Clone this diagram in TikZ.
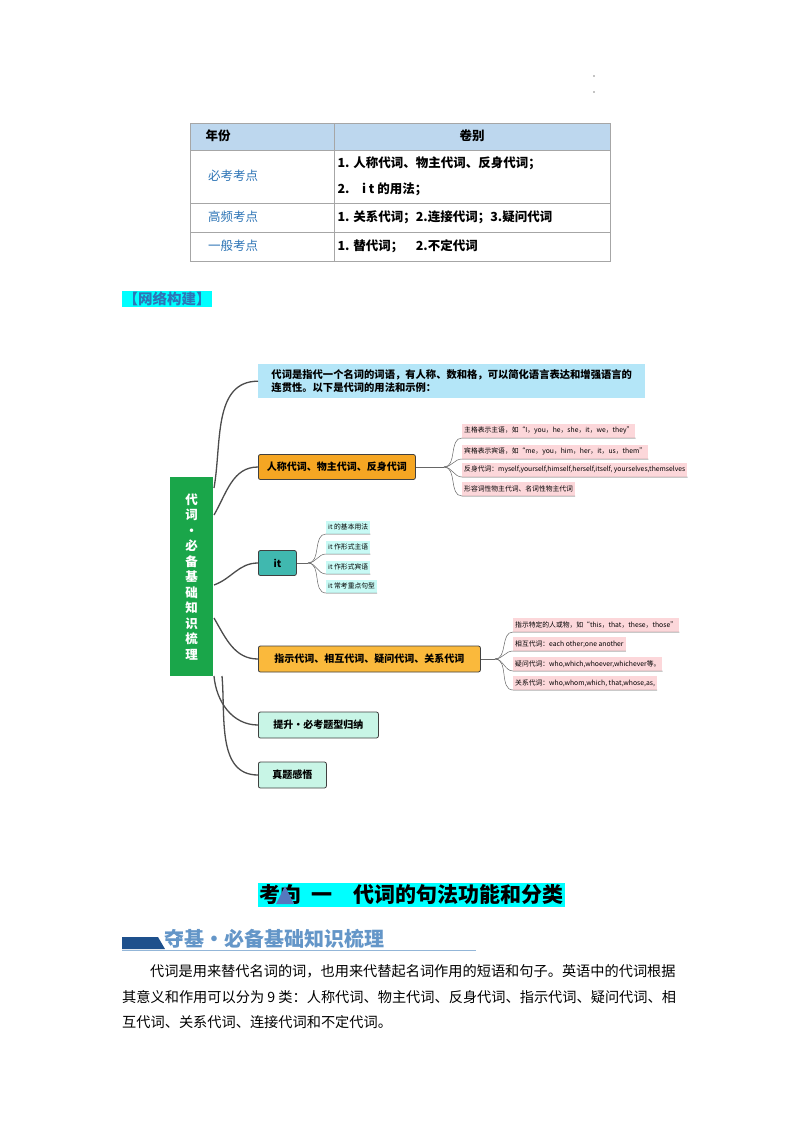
\documentclass[tikz,border=0pt]{standalone}
\usepackage{fontspec}
\setmainfont{Noto Sans CJK SC}
\definecolor{cyanbg}{RGB}{0,255,255}
\definecolor{hdrbg}{RGB}{189,215,238}
\definecolor{tblue}{RGB}{46,117,182}
\definecolor{defbg}{RGB}{180,230,248}
\definecolor{org}{RGB}{245,166,35}
\definecolor{org2}{RGB}{250,185,60}
\definecolor{tealc}{RGB}{64,184,175}
\definecolor{lgreen}{RGB}{200,245,230}
\definecolor{pinkbg}{RGB}{252,215,218}
\definecolor{lcyan}{RGB}{200,250,245}
\definecolor{cgreen}{RGB}{26,166,74}
\definecolor{bannerdark}{RGB}{30,80,140}
\definecolor{bannertxt}{RGB}{100,150,200}
\definecolor{tri}{RGB}{85,120,190}
\begin{document}
\begin{tikzpicture}[x=1pt,y=-1pt,
  cell/.style={draw=gray!70, line width=0.6pt},
  tf/.style={font=\fontsize{12.5}{14}\selectfont\bfseries},
  mainbox/.style={draw=black!75, rounded corners=2pt, line width=0.8pt, anchor=west, inner sep=4pt, font=\fontsize{10}{11}\selectfont\bfseries},
  leafp/.style={fill=pinkbg, anchor=south west, inner sep=2pt, font=\fontsize{6.8}{7}\selectfont, minimum height=14pt},
  leafc/.style={fill=lcyan, anchor=south west, inner sep=2pt, font=\fontsize{6.8}{7}\selectfont, minimum height=13pt},
  br/.style={draw=black!70, line width=1.3pt},
  lf/.style={draw=black!60, line width=0.5pt}]
\useasboundingbox (0,0) rectangle (800,1132);
\fill[white] (0,0) rectangle (800,1132);
\fill (594,76) circle (0.6); \fill (594,92) circle (0.6);
% table
\fill[hdrbg] (190,123) rectangle (610,150);
\draw[cell] (190,123) rectangle (610,261);
\foreach \y in {150,203,232} \draw[cell] (190,\y) -- (610,\y);
\draw[cell] (334,123) -- (334,261);
\node[tf] (h1) at (218,136) {年份};
\node[tf] (h2) at (472,136) {卷别};
\node[tf, font=\fontsize{12.5}{14}\selectfont, text=tblue] (r1) at (233,176) {必考考点};
\node[tf, font=\fontsize{12.5}{14}\selectfont, text=tblue] (r2) at (233,217) {高频考点};
\node[tf, font=\fontsize{12.5}{14}\selectfont, text=tblue] (r3) at (233,246) {一般考点};
\node[tf, anchor=west] (c1) at (334,163) {1. 人称代词、物主代词、反身代词；};
\node[tf, anchor=west] (c2) at (334,189) {2.\quad i t 的用法；};
\node[tf, anchor=west] (c3) at (334,217) {1. 关系代词；2.连接代词；3.疑问代词};
\node[tf, anchor=west] (c4) at (334,246) {1. 替代词；\quad 2.不定代词};
\node[fill=cyanbg, text=tblue, font=\fontsize{14.5}{16}\selectfont\bfseries, inner sep=1.5pt, anchor=west] (net) at (122,299) {【网络构建】};
% mind map
\node[fill=cgreen, minimum width=43pt, minimum height=199pt, anchor=north west, text=white, font=\fontsize{12.5}{15.5}\selectfont\bfseries, align=center] (cen) at (170,477) {代\\词\\•\\必\\备\\基\\础\\知\\识\\梳\\理};
\node[fill=defbg, anchor=north west, minimum width=387pt, minimum height=34pt, align=left, inner xsep=12pt, font=\fontsize{10.3}{13}\selectfont\bfseries] (def) at (258,364) {代词是指代一个名词的词语，有人称、数和格，可以简化语言表达和增强语言的\\连贯性。以下是代词的用法和示例：};
\node[mainbox, fill=org, minimum width=157pt, minimum height=25pt] (o1) at (258,467) {人称代词、物主代词、反身代词};
\node[mainbox, fill=tealc, minimum width=38pt, minimum height=25pt] (it) at (258,563) {it};
\node[mainbox, fill=org2, minimum width=222pt, minimum height=26pt] (o2) at (258,659) {指示代词、相互代词、疑问代词、关系代词};
\node[mainbox, fill=lgreen, minimum width=120pt, minimum height=26pt] (t1) at (258,725) {提升•必考题型归纳};
\node[mainbox, fill=lgreen, minimum width=68pt, minimum height=26pt] (t2) at (258,775) {真题感悟};
\coordinate (s1) at (214,488); \coordinate (s2) at (214,515);
\coordinate (s3) at (214,585); \coordinate (s4) at (214,618);
\coordinate (s5) at (214,676); \coordinate (s6) at (222,676);
\draw[br] (s1) to[out=80,in=180] (def.west);
\draw[br] (s2) to[out=60,in=180] (o1.west);
\draw[br] (s3) to[out=20,in=180] (it.west);
\draw[br] (s4) to[out=-60,in=180] (o2.west);
\draw[br] (s5) to[out=-85,in=180] (t1.west);
\draw[br] (s6) to[out=-85,in=180] (t2.west);
% leaves o1
\node[leafp] (a1) at (462,438) {主格表示主语，如“I，you，he，she，it，we，they”};
\node[leafp] (a2) at (462,459) {宾格表示宾语，如“me，you，him，her，it，us，them”};
\node[leafp] (a3) at (462,477) {反身代词：myself,yourself,himself,herself,itself, yourselves,themselves};
\node[leafp] (a4) at (462,496) {形容词性物主代词、名词性物主代词};
\coordinate (j1) at (444,467);
\draw[lf] (o1.east) -- (j1);
\foreach \n in {a1,a2,a3,a4} \draw[lf] (j1) to[out=0,in=180] (\n.south west) -- (\n.south east);
% leaves it
\node[leafc] (b1) at (326,534) {it 的基本用法};
\node[leafc] (b2) at (326,554) {it 作形式主语};
\node[leafc] (b3) at (326,574) {it 作形式宾语};
\node[leafc] (b4) at (326,593) {it 常考重点句型};
\coordinate (j2) at (308,563);
\draw[lf] (it.east) -- (j2);
\foreach \n in {b1,b2,b3,b4} \draw[lf] (j2) to[out=0,in=180] (\n.south west) -- (\n.south east);
% leaves o2
\node[leafp] (d1) at (513,632) {指示特定的人或物，如“this，that，these，those”};
\node[leafp] (d2) at (513,651) {相互代词：each other;one another};
\node[leafp] (d3) at (513,671) {疑问代词：who,which,whoever,whichever等。};
\node[leafp] (d4) at (513,690) {关系代词：who,whom,which, that,whose,as,};
\coordinate (j3) at (495,659);
\draw[lf] (o2.east) -- (j3);
\foreach \n in {d1,d2,d3,d4} \draw[lf] (j3) to[out=0,in=180] (\n.south west) -- (\n.south east);
% heading
\node[fill=cyanbg, font=\fontsize{21}{22}\selectfont\bfseries, inner sep=1.5pt, anchor=west] (hd) at (258,895) {考向\ \ 一\quad 代词的句法功能和分类};
\fill[tri] (276,904) -- (285,886) -- (294,904) -- cycle;
\fill[bannerdark] (122,937) -- (158,937) -- (165,949) -- (122,949) -- cycle;
\node[anchor=south west, inner sep=0pt, text=bannertxt, font=\fontsize{20}{21}\selectfont\bfseries] (bn) at (164,949) {夺基•必备基础知识梳理};
\draw[bannertxt!70, line width=0.6pt] (122,950.5) -- (476,950.5);
\node[anchor=west, inner sep=0pt, font=\fontsize{14.2}{15}\selectfont] (p1) at (150,971) {代词是用来替代名词的词，也用来代替起名词作用的短语和句子。英语中的代词根据};
\node[anchor=west, inner sep=0pt, font=\fontsize{14.2}{15}\selectfont] (p2) at (122,997) {其意义和作用可以分为 9 类：人称代词、物主代词、反身代词、指示代词、疑问代词、相};
\node[anchor=west, inner sep=0pt, font=\fontsize{14.2}{15}\selectfont] (p3) at (122,1022) {互代词、关系代词、连接代词和不定代词。};
\end{tikzpicture}
\end{document}
